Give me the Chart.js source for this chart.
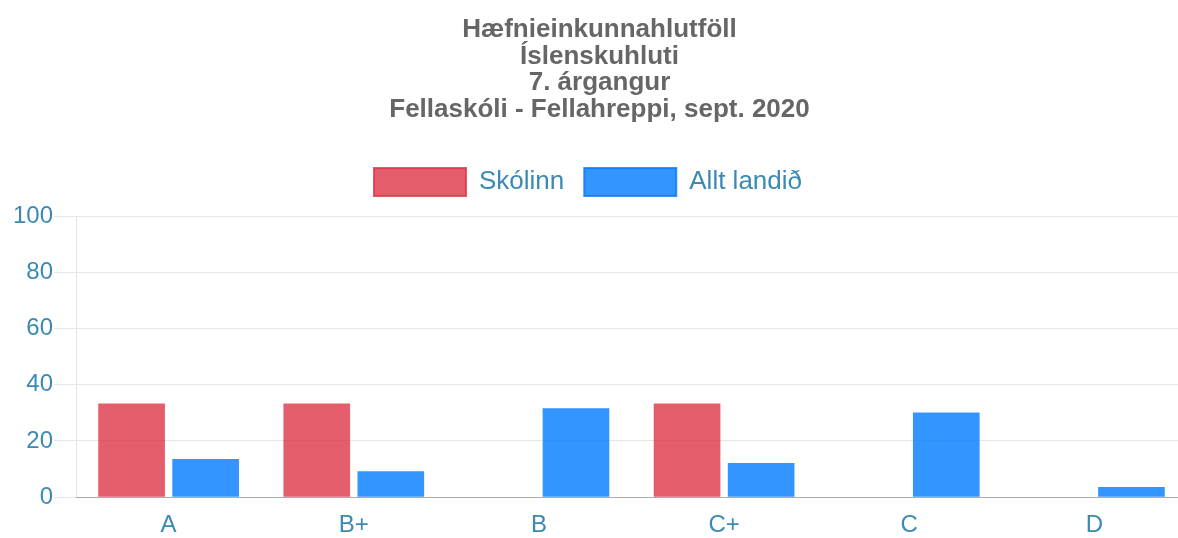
<!DOCTYPE html>
<html>
<head>
<meta charset="utf-8">
<script src="https://cdn.jsdelivr.net/npm/chart.js@4/dist/chart.umd.min.js"></script>
<style>
  html, body { margin: 0; padding: 0; background: #fff; overflow: hidden; }
  #wrap { width: 1195px; height: 538px; position: relative; }
</style>
</head>
<body>
<div id="wrap"><canvas id="grafHlutfoll"></canvas></div>
<script>
// einkunnir og hlutföll (%)
const einkunnir = ['A', 'B+', 'B', 'C+', 'C', 'D'];
const skolinn = [33.3, 33.3, 0, 33.3, 0, 0];
const alltLandid = [13.6, 9.2, 31.6, 12.2, 30.1, 3.6];
const yTicks = [0, 20, 40, 60, 80, 100];
const titill = ['Hæfnieinkunnahlutföll', 'Íslenskuhluti', '7. árgangur', 'Fellaskóli - Fellahreppi, sept. 2020'];

const rautt = 'rgba(220, 53, 69, 0.8)';
const blatt = 'rgba(0, 123, 255, 0.8)';
const textaLitur = '#3a8ab4';

Chart.defaults.font.family = '"Liberation Sans", Arial, sans-serif';

const canvas = document.getElementById('grafHlutfoll');

// smá bil á milli skýringa og grafsins, og skýringar aðeins til vinstri
const legendBil = {
    id: 'legendBil',
    beforeInit(chart) {
        const fit = chart.legend.fit;
        chart.legend.fit = function () {
            fit.bind(chart.legend)();
            this.height += 10;
            this.lineWidths[0] += 23;
        };
    }
};

const data = {
    labels: einkunnir,
    datasets: [{
        label: 'Skólinn',
        data: skolinn,
        backgroundColor: rautt,
        borderWidth: 0
    }, {
        label: 'Allt landið',
        data: alltLandid,
        backgroundColor: blatt,
        borderWidth: 0
    }]
};

const config = {
    type: 'bar',
    data: data,
    plugins: [legendBil],
    options: {
        responsive: true,
        maintainAspectRatio: false,
        animation: false,
        layout: { padding: { left: 12, right: 8, top: 0, bottom: -8 } },
        plugins: {
            title: {
                display: true,
                text: titill,
                color: '#666',
                font: { size: 26, weight: 'bold', lineHeight: 1.02 },
                padding: { top: 17, bottom: 25 }
            },
            legend: {
                labels: {
                    color: textaLitur,
                    font: { size: 26 },
                    boxWidth: 92,
                    boxHeight: 28,
                    padding: 20,
                    generateLabels: (chart) => {
                        const items = Chart.defaults.plugins.legend.labels.generateLabels(chart);
                        items.forEach((it, i) => {
                            const c = chart.data.datasets[i].backgroundColor;
                            it.fillStyle = c;
                            it.strokeStyle = c;
                            it.lineWidth = 2;
                        });
                        return items;
                    }
                }
            },
            tooltip: { enabled: false }
        },
        scales: {
            x: {
                grid: { display: false },
                border: { color: 'rgba(0,0,0,0.25)' },
                ticks: { color: textaLitur, font: { size: 24 }, padding: 6 }
            },
            y: {
                min: 0,
                max: 100,
                afterBuildTicks: (axis) => { axis.ticks = yTicks.map(v => ({ value: v })); },
                grid: { color: 'rgba(0,0,0,0.1)', tickLength: 22 },
                border: { color: 'rgba(0,0,0,0.1)' },
                ticks: { color: textaLitur, font: { size: 24 }, padding: 1 }
            }
        }
    }
};

new Chart(canvas, config);
</script>
</body>
</html>
